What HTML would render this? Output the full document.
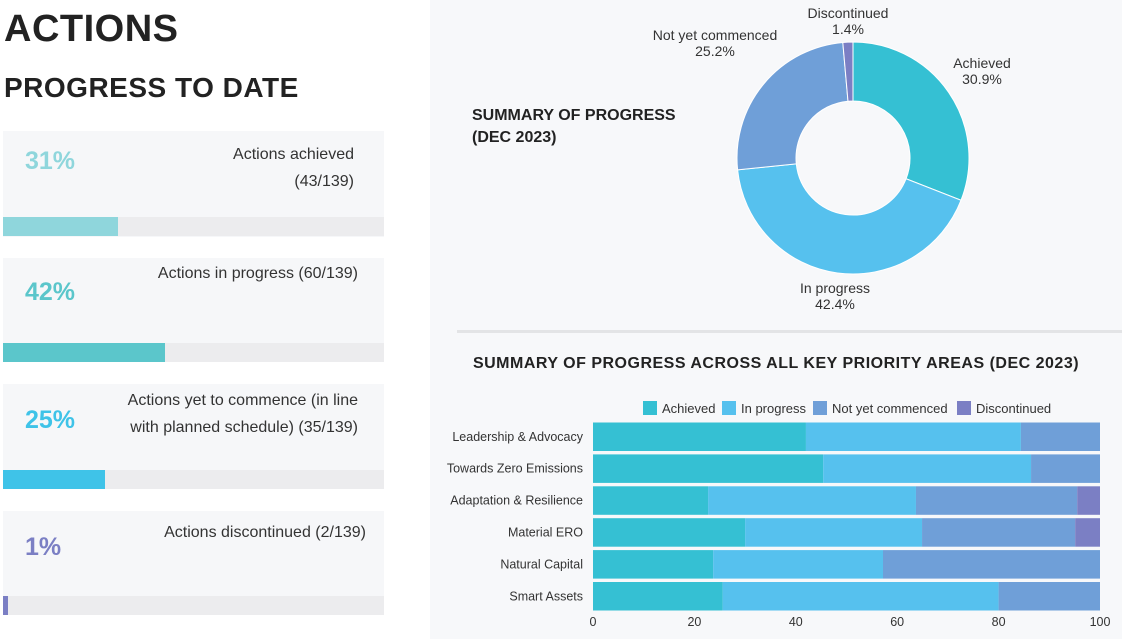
<!DOCTYPE html>
<html><head><meta charset="utf-8">
<style>
body{margin:0;width:1122px;height:639px;background:#fff;font-family:"Liberation Sans",sans-serif;position:relative;overflow:hidden;color:#222}
.abs{position:absolute}
h1{position:absolute;left:4px;top:8px;margin:0;font-size:38px;font-weight:bold;letter-spacing:0.5px}
h2{position:absolute;left:4px;top:72px;margin:0;font-size:28px;font-weight:bold;letter-spacing:0.5px}
.card{position:absolute;left:3px;width:381px;background:#f6f7f9}
.pct{position:absolute;left:22px;font-size:25px;font-weight:bold}
.lbl{position:absolute;right:26px;font-size:16px;text-align:right;line-height:27px;color:#333}
.track{position:absolute;left:0;width:381px;height:19px;background:#ececee}
.fill{position:absolute;left:0;top:0;height:19px}
</style></head><body>
<h1>ACTIONS</h1>
<h2>PROGRESS TO DATE</h2>

<div class="card" style="top:131px;height:106px">
 <div class="pct" style="top:16px;color:#8fd6dc">31%</div>
 <div class="lbl" style="top:10px;right:30px">Actions achieved<br>(43/139)</div>
 <div class="track" style="top:86px"><div class="fill" style="width:115px;background:#8fd6dc"></div></div>
</div>
<div class="card" style="top:258px;height:104px">
 <div class="pct" style="top:20px;color:#5bc6cb">42%</div>
 <div class="lbl" style="top:2px">Actions in progress (60/139)</div>
 <div class="track" style="top:85px"><div class="fill" style="width:162px;background:#5bc6cb"></div></div>
</div>
<div class="card" style="top:384px;height:105px">
 <div class="pct" style="top:22px;color:#3fc3e8">25%</div>
 <div class="lbl" style="top:3px">Actions yet to commence (in line<br>with planned schedule) (35/139)</div>
 <div class="track" style="top:86px"><div class="fill" style="width:102px;background:#3fc3e8"></div></div>
</div>
<div class="card" style="top:511px;height:104px">
 <div class="pct" style="top:22px;color:#7b7fc4">1%</div>
 <div class="lbl" style="top:8px;right:18px">Actions discontinued (2/139)</div>
 <div class="track" style="top:85px"><div class="fill" style="width:5px;background:#7b7fc4"></div></div>
</div>

<div class="abs" style="left:430px;top:0;width:692px;height:639px;background:#f7f8fa"></div>
<div class="abs" style="left:457px;top:330px;width:665px;height:3px;background:#e3e4e6"></div>

<svg class="abs" style="left:0;top:0" width="1122" height="639" id="svg" font-family="Liberation Sans, sans-serif">
 <text x="472" y="120" font-size="16" font-weight="bold" fill="#222">SUMMARY OF PROGRESS</text>
 <text x="472" y="142" font-size="16" font-weight="bold" fill="#222">(DEC 2023)</text>
 <g id="donut"></g>
 <text x="776" y="368" text-anchor="middle" font-size="16" font-weight="bold" letter-spacing="0.5" fill="#222">SUMMARY OF PROGRESS ACROSS ALL KEY PRIORITY AREAS (DEC 2023)</text>
 <g id="legend"></g>
 <g id="bars"></g>
</svg>

<script>
const donutLabels=["Achieved","In progress","Not yet commenced","Discontinued"];
const donutValues=[30.9,42.4,25.2,1.4];
const colors=["#35c0d3","#56c1ee","#6f9fd8","#7b7fc4"];
const categories=["Leadership & Advocacy","Towards Zero Emissions","Adaptation & Resilience","Material ERO","Natural Capital","Smart Assets"];
const achieved=[42,45.4,22.7,30,23.7,25.6];
const inProgress=[42.4,41,41,34.9,33.5,54.4];
const notYet=[15.6,13.6,31.8,30.2,42.8,20];
const discontinued=[0,0,4.5,4.9,0,0];
const xTicks=[0,20,40,60,80,100];

const NS="http://www.w3.org/2000/svg";
function mk(tag,attrs,parent){const e=document.createElementNS(NS,tag);for(const k in attrs)e.setAttribute(k,attrs[k]);parent.appendChild(e);return e;}

// donut
const dg=document.getElementById('donut');
const cx=853,cy=158,R=116,r=57;
const tot=donutValues.reduce((a,b)=>a+b,0);
let ang=0;
const labelPos=[[982,68],[835,293],[715,40],[848,18]];
donutValues.forEach((v,i)=>{
 const a0=ang/tot*2*Math.PI, a1=(ang+v)/tot*2*Math.PI; ang+=v;
 const p=(a,rad)=>[cx+rad*Math.sin(a),cy-rad*Math.cos(a)];
 const [px0,py0]=p(a0,R),[px1,py1]=p(a1,R),[px2,py2]=p(a1,r),[px3,py3]=p(a0,r);
 const lg=(a1-a0)>Math.PI?1:0;
 const s=mk('path',{d:`M${px0},${py0}A${R},${R} 0 ${lg} 1 ${px1},${py1}L${px2},${py2}A${r},${r} 0 ${lg} 0 ${px3},${py3}Z`,fill:colors[i],stroke:'#fff','stroke-width':1},dg);
 
 
 const lp=labelPos[i];
 const t=mk('text',{x:lp[0],y:lp[1],'text-anchor':'middle','font-size':14,fill:'#333'},dg);
 t.textContent=donutLabels[i];
 
 
 const t2=mk('text',{x:lp[0],y:lp[1]+16,'text-anchor':'middle','font-size':14,fill:'#333'},dg);
 t2.textContent=v.toFixed(1)+'%';
 
 
});

// legend
const lgG=document.getElementById('legend');
const lgX=[643,722,813,957];
donutLabels.forEach((n,i)=>{
 const rc=mk('rect',{x:lgX[i],y:401,width:14,height:14,fill:colors[i]},lgG);
 
 
 const t=mk('text',{x:lgX[i]+19,y:413,'font-size':13,fill:'#333'},lgG);
 t.textContent=n;
 
 
});

// bars
const bg=document.getElementById('bars');
const plotX0=593,plotX1=1100,barTop=421,rowH=31.9,barH=28.5;
const xs=v=>plotX0+v/100*(plotX1-plotX0);
const series=[achieved,inProgress,notYet,discontinued];
categories.forEach((c,i)=>{
 const y=barTop+i*rowH+1.5;
 let acc=0;
 series.forEach((s,k)=>{
  const v=s[i]; if(v<=0)return;
  const rc=mk('rect',{x:xs(acc),y:y,width:xs(acc+v)-xs(acc),height:barH,fill:colors[k]},bg);
  
  
  acc+=v;
 });
 const t=mk('text',{x:583,y:y+barH/2+4,'text-anchor':'end','font-size':12.5,fill:'#333'},bg);
 t.textContent=c;
 
 
});
xTicks.forEach(v=>{
 const t=mk('text',{x:xs(v),y:626,'text-anchor':'middle','font-size':12.5,fill:'#333'},bg);
 t.textContent=v;
 
 
});
</script>
</body></html>
